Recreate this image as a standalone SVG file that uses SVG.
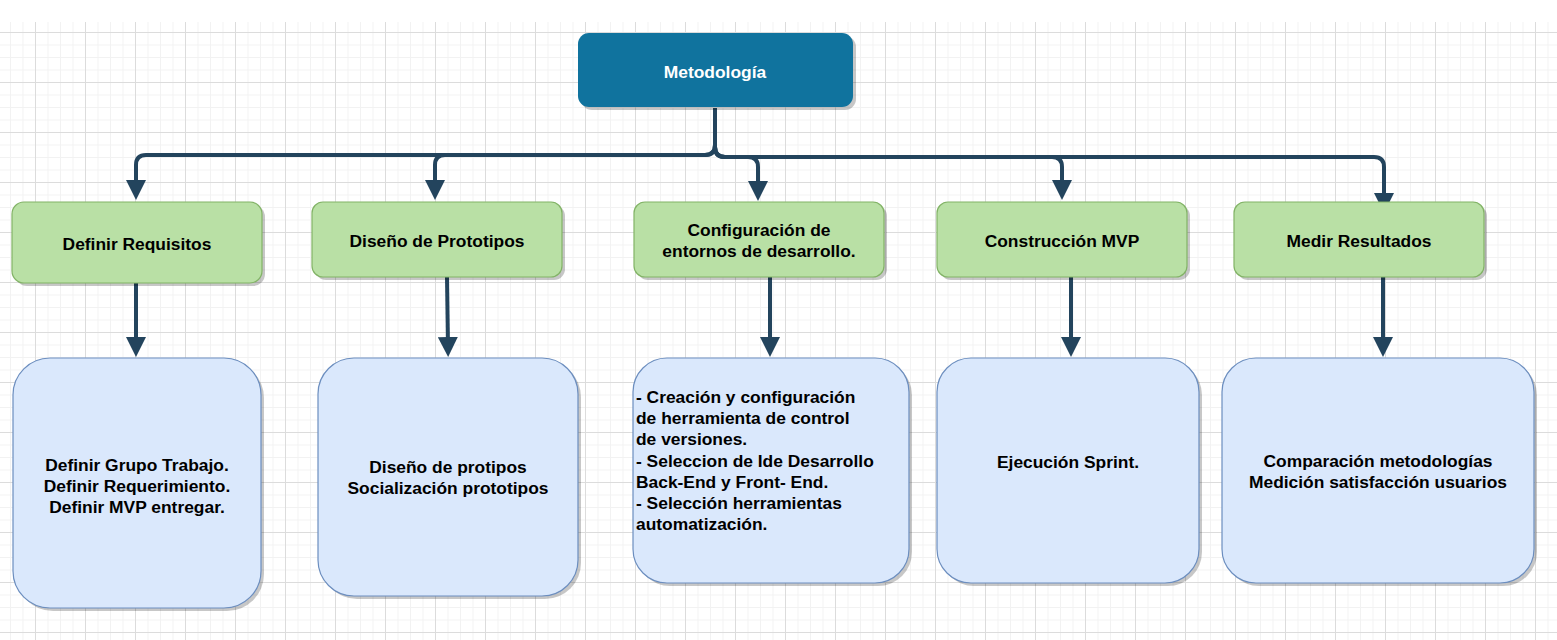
<svg xmlns="http://www.w3.org/2000/svg" width="1557" height="640" viewBox="0 0 1557 640">
<style>
.t{font-family:"Liberation Sans",Arial,sans-serif;font-weight:bold;font-size:17.4px;fill:#000}
.c{text-anchor:middle}
.g{fill:#B9E0A5;stroke:#82B366;stroke-width:1.2}
.b{fill:#DAE8FC;stroke:#6C8EBF;stroke-width:1.2}
.s{fill:#000;opacity:0.22}
.e{fill:none;stroke:#23445D;stroke-width:4;stroke-linejoin:round;marker-end:url(#ah)}
</style>
<defs>
<pattern id="minor" patternUnits="userSpaceOnUse" x="35" y="32" width="12.5" height="12.5">
<path d="M0.5,0V12.5M0,0.5H12.5" stroke="#f2f2f2" stroke-width="1" fill="none"/>
</pattern>
<pattern id="major" patternUnits="userSpaceOnUse" x="35" y="32" width="50" height="50">
<path d="M0.5,0V50M0,0.5H50" stroke="#dcdcdc" stroke-width="1" fill="none"/>
</pattern>
<marker id="ah" markerUnits="userSpaceOnUse" markerWidth="20" markerHeight="20" refX="10" refY="10" orient="auto" viewBox="0 0 20 20">
<path d="M0,0L20,10L0,20Z" fill="#23445D"/>
</marker>
</defs>
<rect width="1557" height="640" fill="#fff"/>
<rect x="0" y="22" width="1557" height="618" fill="url(#minor)"/>
<rect x="0" y="22" width="1557" height="618" fill="url(#major)"/>

<g id="connectors">
<path class="e" d="M715,108V145Q715,155 705,155H146Q136,155 136,165V190"/>
<path class="e" d="M715,108V145Q715,155 705,155H445Q435,155 435,165V190"/>
<path class="e" d="M715,108V147Q715,157 725,157H748Q758,157 758,167V191"/>
<path class="e" d="M715,108V147Q715,157 725,157H1052Q1062,157 1062,167V190"/>
<path class="e" d="M715,108V147Q715,157 725,157H1374Q1384,157 1384,167V203"/>
<path class="e" d="M136,283V347"/>
<path class="e" d="M447,277L448,347"/>
<path class="e" d="M770,277V347"/>
<path class="e" d="M1071,277V347"/>
<path class="e" d="M1383,277V347"/>
</g>

<g id="metodologia">
<rect class="s" x="581" y="36" width="275" height="74" rx="11"/>
<rect x="578" y="33" width="275" height="74" rx="11" fill="#10739E"/>
<text class="t c" x="715" y="78" style="fill:#fff">Metodología</text>
</g>

<g id="definir-requisitos">
<rect class="s" x="15" y="205" width="250" height="81" rx="12"/>
<rect class="g" x="12" y="202" width="250" height="81" rx="12"/>
<text class="t c" x="137" y="250">Definir Requisitos</text>
</g>
<g id="diseno-prototipos">
<rect class="s" x="315" y="205" width="250" height="75" rx="11"/>
<rect class="g" x="312" y="202" width="250" height="75" rx="11"/>
<text class="t c" x="437" y="247">Diseño de Prototipos</text>
</g>
<g id="configuracion">
<rect class="s" x="637" y="205" width="250" height="75" rx="11"/>
<rect class="g" x="634" y="202" width="250" height="75" rx="11"/>
<text class="t c" x="759" y="236">Configuración de</text>
<text class="t c" x="759" y="257">entornos de desarrollo.</text>
</g>
<g id="construccion-mvp">
<rect class="s" x="940" y="205" width="250" height="75" rx="11"/>
<rect class="g" x="937" y="202" width="250" height="75" rx="11"/>
<text class="t c" x="1062" y="247">Construcción MVP</text>
</g>
<g id="medir-resultados">
<rect class="s" x="1237" y="205" width="250" height="75" rx="11"/>
<rect class="g" x="1234" y="202" width="250" height="75" rx="11"/>
<text class="t c" x="1359" y="247">Medir Resultados</text>
</g>

<g id="detalle-requisitos">
<rect class="s" x="16" y="361" width="248" height="250" rx="37"/>
<rect class="b" x="13" y="358" width="248" height="250" rx="37"/>
<text class="t c" x="137" y="471">Definir Grupo Trabajo.</text>
<text class="t c" x="137" y="492">Definir Requerimiento.</text>
<text class="t c" x="137" y="513">Definir MVP entregar.</text>
</g>
<g id="detalle-prototipos">
<rect class="s" x="321" y="361" width="260" height="238" rx="36"/>
<rect class="b" x="318" y="358" width="260" height="238" rx="36"/>
<text class="t c" x="448" y="473">Diseño de protipos</text>
<text class="t c" x="448" y="494">Socialización prototipos</text>
</g>
<g id="detalle-configuracion">
<rect class="s" x="636" y="361" width="276" height="225" rx="34"/>
<rect class="b" x="633" y="358" width="276" height="225" rx="34"/>
<text class="t" x="636" y="403">- Creación y configuración</text>
<text class="t" x="636" y="424">de herramienta de control</text>
<text class="t" x="636" y="445">de versiones.</text>
<text class="t" x="636" y="467">- Seleccion de Ide Desarrollo</text>
<text class="t" x="636" y="488">Back-End y Front- End.</text>
<text class="t" x="636" y="509">- Selección herramientas</text>
<text class="t" x="636" y="530">automatización.</text>
</g>
<g id="detalle-mvp">
<rect class="s" x="940" y="361" width="262" height="225" rx="34"/>
<rect class="b" x="937" y="358" width="262" height="225" rx="34"/>
<text class="t c" x="1068" y="468">Ejecución Sprint.</text>
</g>
<g id="detalle-resultados">
<rect class="s" x="1225" y="361" width="312" height="225" rx="34"/>
<rect class="b" x="1222" y="358" width="312" height="225" rx="34"/>
<text class="t c" x="1378" y="467">Comparación metodologías</text>
<text class="t c" x="1378" y="488">Medición satisfacción usuarios</text>
</g>
</svg>
